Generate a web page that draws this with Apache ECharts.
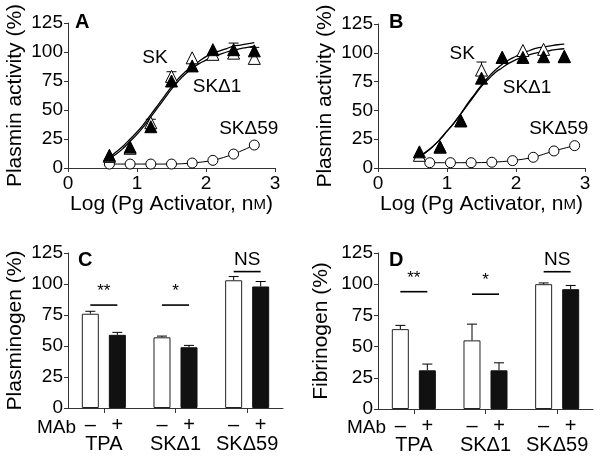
<!DOCTYPE html>
<html><head><meta charset="utf-8">
<script src="https://cdn.jsdelivr.net/npm/echarts@6/dist/echarts.min.js"></script>
<style>html,body{margin:0;padding:0;background:#fff}#c{width:600px;height:456px}</style>
</head><body><div id="c"></div>
<script>
// ---------- data ----------
const pointX = [0.6, 0.9, 1.2, 1.5, 1.8, 2.1, 2.4, 2.7];
const A_SK = [10, 17, 39, 79, 95, 98, 99, 94.5];
const A_SK_err = [0, 0, 3, 4, 0, 0, 0, 0];
const A_SKd1 = [11, 18, 35.6, 75, 88, 102, 102, 101];
const A_SKd1_err = [0, 0, 0, 0, 0, 0, 5.7, 3];
const A_SKd59 = [3.4, 3.4, 3.4, 3.4, 4.3, 6.6, 12, 19.8];

const B_SK = [11, 18, 41, 85, 96, 102, 103, 97];
const B_SK_err = [0, 0, 0, 7, 0, 0, 0, 0];
const B_SKd1 = [14, 18.5, 41, 78, 96, 96, 96.6, 96.6];
const B_SKd59X = [0.75, 1.05, 1.35, 1.65, 1.95, 2.25, 2.55, 2.85];
const B_SKd59 = [4.6, 4.6, 4.6, 5, 6.4, 9.3, 14.8, 19.4];

const curveX = [0.6,0.7,0.8,0.9,1.0,1.1,1.2,1.3,1.4,1.5,1.6,1.7,1.8,1.9,2.0,2.1,2.2,2.3,2.4,2.5,2.6,2.7];
const A_fitSK   = [9,14,19,25,31,38,46,54,62,70,77,83,88,92,96,99,101,103,105,106,107,108];
const A_fitSKd1 = [8,12,17,23,29,36,44,52,60,68,75,81,86,90,93,96,98,100,101.5,103,104,105];
const B_fitSK   = [10,14,19,25,32,39,47,56,64,72,79,85,90,94,97,100,102,104,105,106,107,107.5];
const B_fitSKd1 = [10,14,19,25,32,39,47,55,63,71,77,83,87,91,94,96.5,98.5,100,101,102,103,103.5];

const barCats = ['TPA', 'SKΔ1', 'SKΔ59'];
const C_minus = [76, 57, 103], C_minus_err = [2, 1, 3];
const C_plus  = [59, 49, 98],  C_plus_err  = [2, 1.5, 4];
const D_minus = [64, 55, 100], D_minus_err = [3, 13, 1];
const D_plus  = [31, 31, 96],  D_plus_err  = [5, 6, 3];
const C_sig = [[0, 83], [1, 83], [2, 110]];
const D_sig = [[0, 94], [1, 92], [2, 110]];
const sigText = ['**', '*', 'NS'];

const A_labels = [[1.26, 95, 'SK'], [2.16, 70, 'SKΔ1'], [2.62, 33.6, 'SKΔ59']];
const B_labels = [[1.22, 99, 'SK'], [2.16, 69.5, 'SKΔ1'], [2.62, 34, 'SKΔ59']];

// ---------- helpers ----------
const FONT = '"Liberation Sans", Arial, Helvetica, sans-serif';
const AX = '#333';
const INK = '#000';
const zip = (xs, ys) => xs.map((x, i) => [x, ys[i]]);

function valueX(idx, name) {
  return {
    type: 'value', gridIndex: idx, min: 0, max: 3, interval: 1,
    splitLine: {show: false},
    axisLine: {show: true, onZero: false, lineStyle: {color: AX, width: 1}},
    axisTick: {show: true, length: 4, lineStyle: {color: AX}},
    axisLabel: {fontSize: 19, color: INK, fontFamily: FONT, margin: 6},
    name: name, nameLocation: 'middle', nameGap: 25,
    nameTextStyle: {fontSize: 21, color: INK, fontFamily: FONT, rich: {sc: {fontSize: 15, color: INK, fontFamily: FONT}}}
  };
}
function valueY(idx, name, gap) {
  return {
    type: 'value', gridIndex: idx, min: 0, max: 125, interval: 25,
    splitLine: {show: false},
    axisLine: {show: true, onZero: false, lineStyle: {color: AX, width: 1}},
    axisTick: {show: true, length: 4, lineStyle: {color: AX}},
    axisLabel: {fontSize: 19, color: INK, fontFamily: FONT, margin: 5},
    name: name, nameLocation: 'middle', nameGap: gap,
    nameTextStyle: {fontSize: 21, color: INK, fontFamily: FONT}
  };
}
function catX(idx) {
  return {
    type: 'category', gridIndex: idx, data: barCats, boundaryGap: true,
    axisLine: {show: true, onZero: false, lineStyle: {color: AX, width: 1}},
    axisTick: {show: true, alignWithLabel: true, length: 5, lineStyle: {color: AX}},
    axisLabel: {
      margin: 9, color: INK, fontFamily: FONT, interval: 0,
      formatter: v => '{pm|–}{pm|+}\n{nm|' + v + '}',
      rich: {
        pm: {width: 27, align: 'center', fontSize: 20, lineHeight: 17, fontFamily: FONT, color: INK},
        nm: {fontSize: 20, lineHeight: 20, fontFamily: FONT, color: INK}
      }
    }
  };
}
function errSeries(idx, xs, ys, es) {
  const data = xs.map((x, i) => [x, ys[i], es[i]]).filter(d => d[2] > 0);
  return {
    type: 'custom', xAxisIndex: idx, yAxisIndex: idx, z: 2, silent: true,
    data: data,
    renderItem: (p, api) => {
      const a = api.coord([api.value(0), api.value(1)]);
      const b = api.coord([api.value(0), api.value(1) + api.value(2)]);
      return {type: 'group', children: [
        {type: 'line', shape: {x1: a[0], y1: a[1], x2: b[0], y2: b[1]}, style: {stroke: INK, lineWidth: 1}},
        {type: 'line', shape: {x1: b[0] - 5, y1: b[1], x2: b[0] + 5, y2: b[1]}, style: {stroke: INK, lineWidth: 1}}
      ]};
    }
  };
}
function curve(idx, ys) {
  return {type: 'line', xAxisIndex: idx, yAxisIndex: idx, data: zip(curveX, ys), smooth: true,
    showSymbol: false, symbol: 'none', z: 1, lineStyle: {color: INK, width: 1.3}, silent: true};
}
function circles(idx, xs, ys) {
  return {type: 'line', xAxisIndex: idx, yAxisIndex: idx, data: zip(xs, ys), smooth: 0.3,
    symbol: 'circle', symbolSize: 10, showAllSymbol: true, z: 3,
    lineStyle: {color: INK, width: 1},
    itemStyle: {color: '#fff', borderColor: INK, borderWidth: 1, opacity: 1}};
}
function tri(idx, xs, ys, filled) {
  return {type: 'scatter', xAxisIndex: idx, yAxisIndex: idx, data: zip(xs, ys),
    symbol: 'triangle', symbolSize: 12, z: filled ? 5 : 4,
    itemStyle: filled ? {color: INK, borderColor: INK, borderWidth: 1, opacity: 1}
                      : {color: '#fff', borderColor: INK, borderWidth: 1, opacity: 1}};
}
function labels(idx, arr) {
  return {type: 'scatter', xAxisIndex: idx, yAxisIndex: idx, data: arr.map(d => ({value: [d[0], d[1]], name: d[2]})),
    symbolSize: 0, z: 6, silent: true, itemStyle: {opacity: 1},
    label: {show: true, position: 'inside', formatter: p => p.name, fontSize: 19, color: INK, opacity: 1, fontFamily: FONT}};
}
function bars(idx, ys, white) {
  return {type: 'bar', xAxisIndex: idx, yAxisIndex: idx, data: ys, barWidth: 17, barGap: '59%', z: 2,
    itemStyle: white ? {color: '#fff', borderColor: '#222', borderWidth: 1} : {color: '#111', borderColor: '#111', borderWidth: 1}};
}
function barErr(idx, ys, es, side) {
  return {
    type: 'custom', xAxisIndex: idx, yAxisIndex: idx, z: 3, silent: true,
    data: ys.map((y, i) => [i, y, es[i]]),
    renderItem: (p, api) => {
      const a = api.coord([api.value(0), api.value(1)]);
      const b = api.coord([api.value(0), api.value(1) + api.value(2)]);
      const x = a[0] + side * 13.5;
      return {type: 'group', children: [
        {type: 'line', shape: {x1: x, y1: a[1], x2: x, y2: b[1]}, style: {stroke: INK, lineWidth: 1}},
        {type: 'line', shape: {x1: x - 5, y1: b[1], x2: x + 5, y2: b[1]}, style: {stroke: INK, lineWidth: 1}}
      ]};
    }
  };
}
function sig(idx, arr) {
  return {
    type: 'custom', xAxisIndex: idx, yAxisIndex: idx, z: 4, silent: true,
    data: arr,
    renderItem: (p, api) => {
      const c = api.coord([api.value(0), api.value(1)]);
      const t = sigText[p.dataIndex];
      const isNS = t === 'NS';
      return {type: 'group', children: [
        {type: 'line', shape: {x1: c[0] - 13.5, y1: c[1], x2: c[0] + 13.5, y2: c[1]}, style: {stroke: INK, lineWidth: 1.6}},
        {type: 'text', style: {text: t, x: c[0], y: c[1] - (isNS ? 2 : 5), align: 'center', verticalAlign: 'bottom',
          font: (isNS ? '19px ' : '17px ') + FONT, fill: INK}}
      ]};
    }
  };
}

const chart = echarts.init(document.getElementById('c'), null, {renderer: 'canvas'});
chart.setOption({
  animation: false,
  backgroundColor: '#fff',
  grid: [
    {left: 68, top: 23, width: 207, height: 145},
    {left: 378, top: 24, width: 207, height: 144},
    {left: 68, top: 253, width: 215, height: 155},
    {left: 378, top: 253, width: 215, height: 156}
  ],
  xAxis: [
    valueX(0, 'Log (Pg Activator, n{sc|M})'),
    valueX(1, 'Log (Pg Activator, n{sc|M})'),
    catX(2), catX(3)
  ],
  yAxis: [
    valueY(0, 'Plasmin activity (%)', 42),
    valueY(1, 'Plasmin activity (%)', 42),
    valueY(2, 'Plasminogen (%)', 42),
    valueY(3, 'Fibrinogen (%)', 46)
  ],
  graphic: [
    {type: 'text', left: 75, top: 12, style: {text: 'A', font: 'bold 20px ' + FONT, fill: INK}},
    {type: 'text', left: 389, top: 12, style: {text: 'B', font: 'bold 20px ' + FONT, fill: INK}},
    {type: 'text', left: 78, top: 250, style: {text: 'C', font: 'bold 20px ' + FONT, fill: INK}},
    {type: 'text', left: 389, top: 250, style: {text: 'D', font: 'bold 20px ' + FONT, fill: INK}},
    {type: 'text', left: 37, top: 418, style: {text: 'MAb', font: '19px ' + FONT, fill: INK}},
    {type: 'text', left: 347, top: 418, style: {text: 'MAb', font: '19px ' + FONT, fill: INK}}
  ],
  series: [
    curve(0, A_fitSK), curve(0, A_fitSKd1),
    circles(0, pointX, A_SKd59),
    errSeries(0, pointX, A_SK, A_SK_err), errSeries(0, pointX, A_SKd1, A_SKd1_err),
    tri(0, pointX, A_SK, false), tri(0, pointX, A_SKd1, true),
    labels(0, A_labels),

    curve(1, B_fitSK), curve(1, B_fitSKd1),
    circles(1, B_SKd59X, B_SKd59),
    errSeries(1, pointX, B_SK, B_SK_err),
    tri(1, pointX, B_SK, false), tri(1, pointX, B_SKd1, true),
    labels(1, B_labels),

    bars(2, C_minus, true), bars(2, C_plus, false),
    barErr(2, C_minus, C_minus_err, -1), barErr(2, C_plus, C_plus_err, 1),
    sig(2, C_sig),

    bars(3, D_minus, true), bars(3, D_plus, false),
    barErr(3, D_minus, D_minus_err, -1), barErr(3, D_plus, D_plus_err, 1),
    sig(3, D_sig)
  ]
});
</script></body></html>
